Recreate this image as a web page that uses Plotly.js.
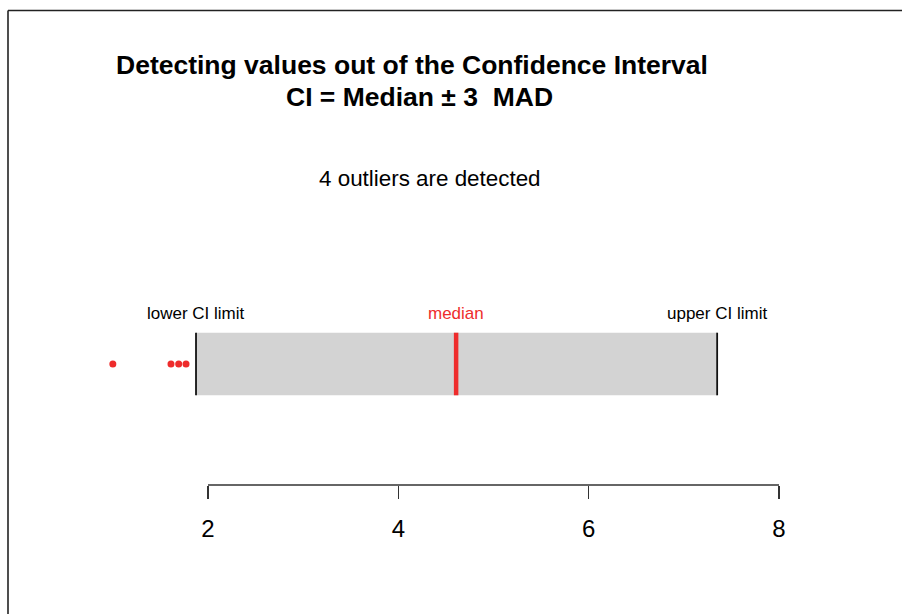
<!DOCTYPE html>
<html>
<head>
<meta charset="utf-8">
<script src="https://cdn.plot.ly/plotly-3.0.1.min.js"></script>
<style>
html,body{margin:0;padding:0;background:#fff;overflow:hidden;}
#chart{width:902px;height:614px;}
</style>
</head>
<body>
<div id="chart"></div>
<script>
// ---- data ----
var lowerCI = 1.874;
var upperCI = 7.35;
var medianValue = 4.607;
var outlierValues = [1.00, 1.611, 1.692, 1.769];
var tickValues = [2, 4, 6, 8];
var tickLabels = ["2", "4", "6", "8"];
var limitLabels = ["lower CI limit", "median", "upper CI limit"];
var titleLines = ["Detecting values out of the Confidence Interval", "CI = Median \u00b1 3\u00a0 MAD"];
var subtitleText = outlierValues.length + " outliers are detected";

// ---- style ----
var FONT = "Liberation Sans, Arial, Helvetica, sans-serif";
var RED = "#ee2c2c";
var W = 902, H = 614, B = 129; // bottom margin
var PH = H - B;
function px(x){ return x / W; }
function py(y){ return (PH - y) / PH; }

var yc = 1, half = 0.4;

var traces = [{
  type: "scatter",
  mode: "markers",
  x: outlierValues,
  y: outlierValues.map(function(){ return yc; }),
  marker: {color: RED, size: 7, line: {width: 0}},
  hoverinfo: "x",
  showlegend: false
}];

var shapes = [
  // CI band
  {type:"rect", xref:"x", yref:"y", x0:lowerCI, x1:upperCI, y0:yc-half, y1:yc+half,
   fillcolor:"#d3d3d3", line:{width:0}, layer:"below"},
  // CI limit lines
  {type:"line", xref:"x", yref:"y", x0:lowerCI, x1:lowerCI, y0:yc-half, y1:yc+half,
   line:{color:"#111", width:1.8}},
  {type:"line", xref:"x", yref:"y", x0:upperCI, x1:upperCI, y0:yc-half, y1:yc+half,
   line:{color:"#111", width:1.8}},
  // median
  {type:"line", xref:"x", yref:"y", x0:medianValue, x1:medianValue, y0:yc-half, y1:yc+half,
   line:{color:RED, width:4.5}},
  // axis line (R style, from first to last tick)
  {type:"line", xref:"x", yref:"paper", x0:tickValues[0], x1:tickValues[tickValues.length-1], y0:0, y1:0,
   line:{color:"#333", width:1.5}},
  // figure border (top and left edges)
  {type:"line", xref:"paper", yref:"paper", x0:px(8), x1:px(910), y0:py(10.5), y1:py(10.5),
   line:{color:"#222", width:1.6}},
  {type:"line", xref:"paper", yref:"paper", x0:px(8), x1:px(8), y0:py(10.5), y1:py(620),
   line:{color:"#222", width:1.6}}
];

var annotations = [
  {text:"<b>"+titleLines[0]+"</b>", xref:"paper", yref:"paper", x:px(411.5), y:py(65),
   xanchor:"center", yanchor:"middle", showarrow:false, font:{family:FONT, size:26.5, color:"#000"}},
  {text:"<b>"+titleLines[1]+"</b>", xref:"paper", yref:"paper", x:px(419), y:py(97),
   xanchor:"center", yanchor:"middle", showarrow:false, font:{family:FONT, size:26.5, color:"#000"}},
  {text:subtitleText, xref:"paper", yref:"paper", x:px(429.5), y:py(178),
   xanchor:"center", yanchor:"middle", showarrow:false, font:{family:FONT, size:22.4, color:"#000"}},
  {text:limitLabels[0], xref:"x", yref:"paper", x:lowerCI, y:py(313.5),
   xanchor:"center", yanchor:"middle", showarrow:false, font:{family:FONT, size:17, color:"#000"}},
  {text:limitLabels[1], xref:"x", yref:"paper", x:medianValue, y:py(313.5),
   xanchor:"center", yanchor:"middle", showarrow:false, font:{family:FONT, size:17, color:RED}},
  {text:limitLabels[2], xref:"x", yref:"paper", x:upperCI, y:py(313.5),
   xanchor:"center", yanchor:"middle", showarrow:false, font:{family:FONT, size:17, color:"#000"}}
];

// x mapping: value 2 at px 208, 95.17 px per unit
var k = 95.17;
var xmin = 2 - 208 / k, xmax = 2 + (W - 208) / k;
// y mapping: center at px 364, 78.25 px per unit
var ky = 78.25;
var ymin = yc - (PH - 364) / ky, ymax = yc + 364 / ky;

var layout = {
  width: W, height: H,
  margin: {l:0, r:0, t:0, b:B, pad:0},
  paper_bgcolor: "#fff",
  plot_bgcolor: "#fff",
  showlegend: false,
  xaxis: {
    range: [xmin, xmax],
    tickmode: "array", tickvals: tickValues, ticktext: tickLabels,
    ticks: "outside", ticklen: 13, tickwidth: 1.5, tickcolor: "#333",
    ticklabelstandoff: 9,
    showline: false, showgrid: false, zeroline: false,
    tickfont: {family: FONT, size: 24, color: "#000"},
    fixedrange: true
  },
  yaxis: {range: [ymin, ymax], visible: false, fixedrange: true},
  shapes: shapes,
  annotations: annotations,
  font: {family: FONT}
};

Plotly.newPlot("chart", traces, layout, {displayModeBar: false, staticPlot: true});
</script>
</body>
</html>
